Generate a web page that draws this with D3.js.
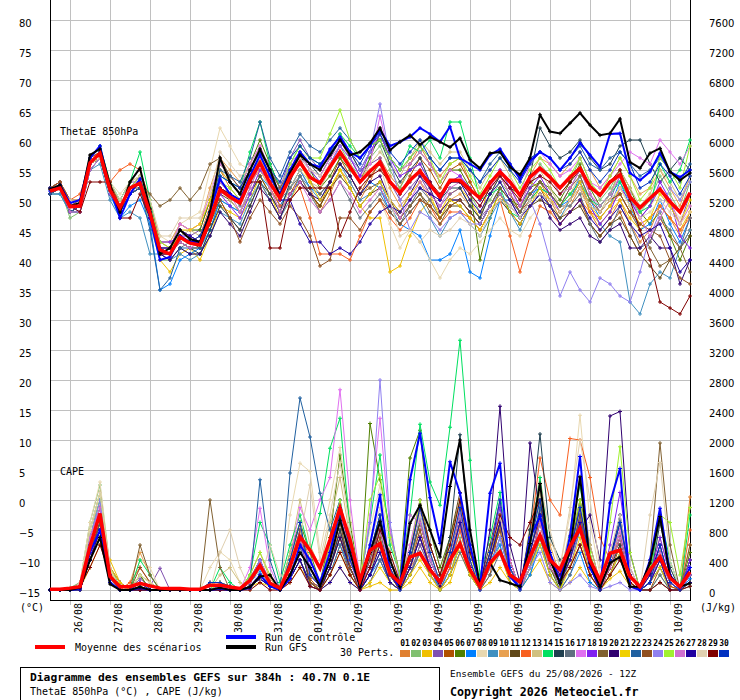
<!DOCTYPE html>
<html>
<head>
<meta charset="utf-8">
<script src="https://cdn.jsdelivr.net/npm/d3@7"></script>
<style>
  body { margin: 0; background: #fff; }
  svg text { font-family: "DejaVu Sans Mono", monospace; fill: #000; }
</style>
</head>
<body>
<svg id="chart" width="740" height="700"></svg>
<script>
// forecast steps (hours from 25/08 12Z), one every 6h
var hours = d3.range(0, 385, 6);
var dayLabels = ['26/08', '27/08', '28/08', '29/08', '30/08', '31/08', '01/09', '02/09',
    '03/09', '04/09', '05/09', '06/09', '07/09', '08/09', '09/09', '10/09'];
var dayHours = d3.range(12, 384, 24);
var thetaTicks = d3.range(-15, 81, 5);
var capeTicks = d3.range(0, 7601, 400);
var pertNames = d3.range(1, 31).map(function (n) { return (n < 10 ? '0' : '') + n; });
var pertColors = ['#e08030', '#80c070', '#f0c000', '#8050b0', '#b05000', '#508000', '#0080ff', '#e8d8b0',
    '#4090c0', '#e8a050', '#604818', '#f86020', '#d0c080', '#00e060', '#204050', '#607080', '#e070f0',
    '#8020f0', '#806030', '#300070', '#f0d000', '#2060a0', '#905020', '#9080f0', '#a0f030', '#d070d0',
    '#2000a0', '#e0d0b0', '#800000', '#0030c0'];

// ThetaE 850hPa (°C)
var thetaMean = [51.5, 52, 48.9, 49, 56.2, 57.8, 51.7, 48.7, 52, 52.8, 47.8, 41.7, 41, 43.8, 42.8, 42.5, 46.7,
    51.7, 50.5, 49.5, 53.3, 56.2, 52.8, 50.3, 53.8, 56.3, 53.8, 52.8, 55.5, 58, 55.5, 53, 54.8, 56.3, 53, 51.2,
    53.3, 54.8, 52.5, 50.5, 53.3, 53.3, 51.7, 50.3, 52.8, 54.7, 53, 50.8, 53.8, 55.3, 53.8, 52, 53.8, 55.3, 52.2,
    50.8, 53, 54.2, 50.5, 48.7, 50.3, 51.8, 49.7, 48, 51.2];
var thetaControl = [51.5, 52.5, 49.5, 50, 57, 59, 52, 47, 51, 53.5, 47, 40, 40.5, 44, 43, 43, 48, 53.5, 51, 50,
    54, 57.5, 54, 51, 55, 58, 56, 55.5, 58.5, 60.5, 58, 57, 59, 61.7, 59, 59.7, 60.5, 62, 61, 59.7, 62.2, 57, 56,
    55, 57.5, 58.5, 56, 53.5, 56.5, 58, 57, 55, 57, 59.5, 57.5, 55.5, 61, 61.1, 54.5, 53.3, 54.7, 57.8, 54.7,
    53.8, 55];
var thetaGfs = [51.8, 52.5, 49, 49.5, 57.5, 58.5, 52.5, 48, 53, 55.3, 48.5, 41, 42, 45, 43.5, 43, 48, 57, 53, 51,
    55, 58.5, 55, 50.5, 54.5, 57.5, 56, 55, 57.5, 60, 57.5, 58, 59.5, 62, 58.3, 59.7, 60.8, 59.2, 60.5, 59.7,
    58.8, 60.3, 56.7, 55.3, 57.8, 58, 55.5, 54.2, 57, 64.2, 61.4, 61.1, 62.8, 64.5, 62.5, 60.8, 61.1, 63.5, 56.3,
    55.3, 57.8, 58.6, 54.7, 53.3, 54.5];
var thetaPerts = [
    [52,53,50,50,57,59,53,49,52,54,48,42,42, 44,43,44,49,55,52,50,54,57,53,49,52,55, 52,48,51,55,53,50,53,57,54,52,56,59,56, 54,56,57,53,50,53,55,52,49,51,53,50,47, 49,52,48,45,47,50,46,43,45,49,47,44,48],
    [51,52,47,48,55,57,51,48,51,52,46,40,40, 42,41,41,45,50,49,48,52,56,54,51,55,58, 55,53,56,59,56,54,57,59,55,52,55,56,53, 50,53,54,51,48,50,53,51,48,52,56,54,51, 53,57,53,50,52,55,51,48,50,54,51,48,53],
    [51,51,48,49,56,57,51,48,51,52,47,40,38, 41,42,40,44,49,48,47,50,54,51,47,50,53, 51,49,52,55,52,49,47,47,38,39,44,48,50, 48,51,52,50,47,53,54,52,51,53,52,50,49, 51,53,48,46,48,50,47,45,47,49,47,45,48],
    [52,52,49,48,56,58,52,50,53,53,49,42,42, 45,44,45,50,55,53,51,55,58,56,52,57,60, 57,55,58,61,58,55,56,57,53,50,52,54,51, 49,51,52,49,47,49,52,50,47,50,53,51,49, 52,55,51,48,50,54,50,47,49,52,49,46,51],
    [52,53,49,49,56,57,52,48,51,52,47,41,41, 43,42,42,46,50,47,45,49,53,50,47,51,54, 51,49,53,57,54,51,54,56,53,51,54,57,55, 52,55,56,53,50,52,54,51,48,50,52,49,46, 48,50,46,44,46,48,44,41,43,47,44,42,45],
    [51,52,48,49,56,58,52,49,52,53,48,42,42, 46,45,45,50,56,54,52,56,60,56,52,55,58, 55,52,54,57,55,53,57,61,57,55,56,58,56, 53,55,55,52,40,47,52,50,49,52,53,52,50, 53,56,52,49,51,55,52,48,46,48,44,40,44],
    [51,51,48,48,55,57,51,47,49,50,46,35,36, 40,41,42,45,50,49,48,51,54,52,49,52,55, 52,51,53,56,54,51,53,52,48,46,45,44,40, 40,41,45,38,37,44,50,50,48,51,52,51,49, 50,54,50,47,49,53,49,45,46,50,46,43,47],
    [52,52,49,50,56,57,53,51,53,54,50,44,43, 46,47,48,55,62,59,56,55,57,55,53,55,58, 57,56,57,59,57,54,52,50,46,42,45,43,40, 37,40,42,41,43,45,47,45,44,47,49,48,47, 49,51,49,48,50,52,50,48,49,51,49,47,49],
    [51,51,48,48,55,56,50,47,48,47,41,41,40, 41,40,41,44,48,47,46,50,53,50,47,50,54, 52,50,53,56,53,50,51,53,49,46,48,50,47, 44,47,48,46,44,47,50,48,45,49,51,49,47, 50,53,49,46,44,43,33,31,36,38,37,42,45],
    [52,53,50,50,57,58,52,50,53,54,49,43,43, 46,45,46,52,57,55,53,56,59,55,52,55,58, 56,55,58,60,57,54,55,56,52,49,51,53,50, 48,50,51,49,47,51,54,52,50,54,57,56,54, 56,58,55,52,54,57,54,51,52,55,52,49,54],
    [51,52,48,49,56,57,52,49,52,52,47,42,41, 44,43,42,46,51,50,48,51,54,51,48,51,53, 51,49,52,54,52,49,51,52,49,47,49,51,49, 47,49,49,47,45,48,50,48,46,49,50,49,47, 48,49,46,44,46,47,44,41,39,37,40,42,44],
    [52,53,50,51,56,57,53,55,56,55,50,43,42, 45,44,43,48,52,51,50,53,55,52,49,50,52, 47,41,41,41,40,44,48,50,47,45,47,50,49, 46,48,48,47,45,48,50,44,38,44,49,48,46, 48,50,48,47,49,51,48,46,47,49,47,45,47],
    [52,52,49,49,56,57,52,49,52,53,48,43,43, 44,45,44,48,52,50,48,51,55,52,48,52,55, 53,52,55,58,56,53,56,58,56,54,57,60,58, 56,58,58,55,52,55,57,54,51,53,55,52,49, 51,54,50,48,51,55,52,49,51,55,53,50,54],
    [52,52,49,49,57,59,53,50,53,58,50,42,41, 44,43,43,48,54,53,52,58,63,56,52,56,59, 57,56,58,61,59,57,59,60,57,55,59,58,60, 57,63,63,57,50,51,52,48,47,50,52,51,49, 51,53,50,49,51,53,50,48,49,56,53,55,60],
    [51,52,48,49,56,57,51,48,51,52,47,41,41, 43,42,41,45,49,47,45,49,53,51,48,53,57, 56,54,57,60,58,55,58,60,56,53,55,57,53, 50,52,52,49,47,51,54,52,51,54,62,59,57, 58,60,57,55,56,59,60,60,56,53,55,57,55],
    [51,52,48,48,55,57,51,48,51,52,47,41,40, 42,43,43,47,53,51,49,53,57,54,50,52,54, 51,48,50,53,50,47,49,51,48,46,49,52,50, 47,50,50,48,46,49,52,50,48,51,53,51,49, 49,51,46,43,45,49,46,42,43,47,45,42,47],
    [52,53,49,49,56,58,52,49,52,53,48,42,42, 46,45,46,51,56,54,52,56,59,55,52,56,58, 55,54,57,59,57,54,56,64,57,55,56,58,56, 53,55,54,51,49,52,55,53,51,56,58,56,54, 55,57,53,52,54,56,58,57,56,60,58,56,59],
    [52,52,49,49,56,58,52,49,52,54,49,43,43, 44,44,43,47,51,49,47,51,55,53,50,54,57, 55,53,56,59,57,54,58,61,57,54,55,56,53, 50,53,54,52,50,53,55,52,49,52,54,51,48, 50,53,49,46,48,52,50,47,49,53,50,44,42],
    [52,53,50,50,56,57,52,49,52,53,51,49,50, 52,50,52,56,57,54,52,55,58,55,52,55,57, 53,51,53,56,54,51,52,53,50,47,49,51,48, 46,49,50,48,46,49,52,50,48,51,53,51,49, 52,54,50,48,50,51,48,45,42,39,40,42,38],
    [51,52,48,49,56,57,51,48,51,52,47,41,40, 42,41,41,44,48,46,44,48,52,50,47,51,53, 51,50,53,56,54,51,53,54,50,48,51,54,52, 48,50,50,48,46,49,51,48,46,49,51,47,45, 46,47,44,43,45,46,42,42,44,42,42,36,40],
    [52,52,49,49,56,57,52,49,52,53,48,42,41, 45,45,46,50,55,53,51,55,58,54,51,54,56, 53,50,52,55,52,49,51,53,50,48,51,53,51, 47,50,49,47,45,48,51,48,46,49,52,50,48, 50,53,49,47,49,52,49,46,47,51,49,46,50],
    [51,52,48,49,56,58,52,48,51,52,45,35,37, 42,42,42,48,55,54,53,57,63,57,54,58,61, 59,58,60,62,60,57,59,60,57,55,57,59,57, 55,57,57,55,53,56,58,56,54,57,58,57,55, 57,59,56,55,57,58,56,54,55,57,55,53,56],
    [52,53,49,50,57,58,53,49,52,53,48,42,42, 45,44,43,47,50,47,43,47,50,48,46,49,47, 44,39,40,47,47,45,48,50,48,46,48,50,49, 47,49,50,48,46,49,51,49,47,50,51,50,48, 50,52,49,48,50,51,48,46,45,44,40,37,36],
    [52,52,49,48,56,58,51,48,52,53,48,42,42, 45,44,43,47,52,51,50,53,56,53,50,54,56, 54,53,56,59,57,55,58,66,57,50,45,48,47, 45,47,48,46,46,49,51,49,47,50,46,40,34, 38,35,33,37,36,34,33,38,44,48,52,50,53],
    [52,52,49,49,56,58,52,49,52,54,49,43,42, 44,43,43,47,53,52,50,54,57,54,51,56,59, 57,57,61,65,60,57,59,60,57,55,57,59,57, 53,56,57,54,51,54,57,55,52,55,57,55,52, 54,57,53,51,54,57,54,50,52,57,55,52,59],
    [52,52,48,48,55,57,52,49,52,53,47,41,41, 43,42,43,48,53,51,48,52,56,52,48,51,53, 50,48,50,53,51,48,50,52,49,47,50,53,51, 49,52,53,51,49,52,54,51,49,53,55,54,51, 52,55,51,49,51,54,51,47,44,47,50,46,49],
    [52,52,49,49,56,58,52,49,52,53,48,42,42, 45,44,43,47,52,51,50,53,56,53,50,50,46, 43,43,41,42,41,43,46,48,49,48,50,52,51, 50,53,53,50,48,51,53,50,47,49,51,49,46, 48,50,47,45,47,49,46,44,45,46,42,38,40],
    [52,52,50,50,56,57,53,50,53,54,50,44,44, 47,47,47,51,58,56,54,55,57,54,51,54,57, 55,54,56,58,56,53,55,56,50,44,45,43,45, 44,45,47,46,44,48,50,49,47,50,51,50,48, 50,52,49,48,50,52,49,47,48,50,48,46,48],
    [52,52,49,48,53,53,53,47,47,51,47,41,41, 44,43,43,47,52,51,50,53,53,42,42,50,52, 52,52,52,44,48,52,54,55,53,51,53,55,53, 51,53,53,51,49,52,54,52,50,53,54,53,51, 53,55,52,51,53,55,50,45,40,33,32,31,34],
    [52,52,49,49,56,58,52,48,51,53,48,42,41, 44,43,44,48,54,53,52,55,58,55,53,57,59, 57,56,58,60,58,56,59,61,58,56,58,60,57, 55,57,57,55,53,55,57,55,53,56,58,57,55, 56,58,55,53,55,58,56,52,53,56,54,51,54]
];

// CAPE (J/kg)
var capeMean = [10, 10, 25, 45, 580, 1020, 180, 45, 45, 90, 55, 25, 20, 20, 10, 10, 65, 65, 40, 20, 130, 330,
    90, 25, 310, 710, 530, 290, 670, 1090, 670, 130, 530, 620, 220, 90, 440, 490, 270, 110, 400, 620, 270, 45,
    360, 510, 200, 110, 440, 730, 400, 270, 580, 820, 400, 130, 490, 530, 180, 45, 270, 440, 160, 45, 240];
var capeControl = [0, 0, 0, 20, 500, 800, 100, 0, 0, 30, 0, 0, 0, 0, 0, 0, 0, 20, 0, 0, 30, 200, 50, 0, 150, 600,
    400, 100, 500, 1100, 600, 50, 600, 1270, 220, 30, 1470, 2090, 1230, 620, 1710, 1290, 600, 50, 1290, 1690,
    180, 30, 700, 980, 500, 100, 720, 1780, 300, 40, 1160, 1620, 45, 0, 400, 1090, 200, 30, 300];
var capeGfs = [0, 0, 0, 30, 400, 700, 80, 0, 0, 40, 0, 0, 0, 0, 0, 0, 0, 30, 0, 0, 40, 180, 200, 0, 200, 500,
    300, 50, 400, 930, 500, 40, 500, 910, 400, 45, 890, 1130, 800, 440, 1380, 2000, 800, 65, 360, 130, 90, 45,
    620, 1420, 400, 90, 530, 1510, 360, 45, 360, 440, 45, 45, 360, 980, 180, 45, 90];
var capePerts = [
    [0,0,0,50,700,1200,200,0,0,100,0,0,0, 0,0,0,50,80,40,0,100,300,100,0,300,800, 400,100,600,1000,500,50,300,600,100,0,300,500,200, 50,400,900,300,0,400,800,200,0,300,700,300,100, 300,600,200,0,300,600,100,0,100,300,50,0,1240],
    [0,0,30,100,900,1400,300,50,0,200,0,0,0, 0,0,0,0,50,0,0,150,400,100,0,200,600, 100,50,400,900,300,0,200,700,200,0,200,600,300, 0,200,700,200,0,300,600,100,0,200,700,200,0, 400,1000,300,0,200,500,50,0,0,200,0,0,100],
    [0,0,0,20,300,600,400,100,0,50,0,0,0, 0,0,0,0,0,0,0,50,150,50,0,150,400, 50,0,100,300,100,0,50,100,0,0,100,300,100, 0,100,500,200,0,100,300,100,0,200,400,100,0, 100,300,100,0,150,250,50,0,0,100,0,0,50],
    [0,0,0,0,600,1000,200,0,0,150,50,290,0, 0,0,0,50,80,40,0,100,300,100,0,300,700, 100,50,300,800,200,0,100,400,100,0,200,600,300, 0,300,800,300,0,300,700,200,0,400,900,300,50, 300,800,200,0,300,700,100,0,100,400,0,0,200],
    [0,0,0,0,400,900,150,0,0,0,0,0,0, 0,0,0,100,100,50,0,50,200,50,0,400,900, 150,0,300,700,200,0,200,500,100,0,200,500,200, 0,200,600,200,0,200,900,400,0,300,1000,300,100, 500,900,300,0,200,600,100,0,0,300,50,0,300],
    [0,0,0,50,600,1100,200,0,0,200,0,0,0, 0,0,0,0,0,0,0,100,300,100,0,500,900, 500,100,700,1800,900,100,2220,1470,800,200,1760,2130,800, 300,700,1200,400,0,500,900,200,0,700,1000,300,0, 500,1100,400,0,400,800,100,0,100,500,100,0,500],
    [0,0,0,0,500,900,100,0,0,0,0,0,0, 0,0,0,0,50,0,0,100,250,50,0,300,600, 100,0,200,600,300,0,200,400,100,0,300,700,300, 0,300,900,300,0,400,600,100,0,200,600,200,0, 200,500,100,0,300,800,200,0,100,300,0,0,150],
    [0,0,0,100,900,1440,300,0,0,400,300,0,0, 0,0,0,300,510,400,100,0,300,200,0,1000,1690, 1580,500,1200,1900,1000,200,800,1400,500,100,600,1200,500, 100,600,1200,400,0,500,1100,300,0,900,1500,700,300, 1000,2330,900,200,500,1000,200,0,300,900,300,0,400],
    [0,0,0,50,600,1000,150,0,0,0,0,0,0, 0,0,0,0,0,0,0,50,150,50,0,150,400, 100,0,300,800,400,0,200,500,100,0,200,500,200, 0,200,600,200,0,300,700,200,0,300,900,400,100, 400,800,300,0,200,500,100,0,0,100,0,0,50],
    [0,0,0,50,800,1300,250,0,100,500,200,0,0, 0,0,0,0,100,50,0,200,500,150,0,400,800, 200,100,500,1100,400,50,300,700,200,0,400,800,300, 50,400,1000,400,0,400,900,300,0,500,1100,600,200, 600,1200,500,0,300,800,200,0,100,400,100,0,600],
    [0,0,0,100,500,900,300,100,0,0,0,0,0, 0,0,0,0,50,0,0,150,400,100,0,200,600, 100,0,300,700,300,0,300,900,400,100,500,1200,600, 200,700,1300,500,100,600,1200,400,0,800,1400,500,100, 500,1200,600,100,300,700,200,0,100,500,100,0,400],
    [0,0,0,0,700,1100,200,0,100,300,100,0,0, 0,0,0,50,80,40,0,100,300,100,0,300,700, 200,50,400,800,300,0,300,600,200,0,300,700,300, 50,300,800,300,0,400,900,300,0,700,1760,1200,1000, 2020,2000,1500,700,400,900,200,0,200,500,100,0,800],
    [0,0,0,50,800,1200,200,0,0,200,100,0,0, 0,0,0,0,200,300,100,0,200,100,0,500,1200, 600,300,900,1500,700,100,500,1000,300,0,400,900,400, 100,500,1000,400,0,500,1000,300,0,600,1300,500,200, 800,1500,600,100,400,900,300,0,300,700,200,0,300],
    [0,0,0,50,700,1200,200,0,0,400,200,0,0, 0,0,0,0,300,100,0,200,900,600,100,600,1000, 500,1020,1890,2290,800,100,900,1800,600,200,1000,2210,1440, 1130,2170,3330,1730,200,700,1300,300,0,600,1500,500,100, 700,1400,500,0,400,1000,200,0,200,1000,400,0,1000],
    [0,0,0,0,500,900,100,0,0,50,0,0,0, 0,0,0,0,0,0,0,100,300,100,0,200,600, 100,0,300,800,300,0,300,800,200,0,400,900,400, 100,700,2070,600,0,500,1000,300,0,800,2080,700,400, 500,900,400,0,300,600,100,0,100,900,300,0,400],
    [0,0,0,0,400,800,100,0,0,0,0,0,0, 0,0,0,0,0,0,0,50,150,50,0,150,400, 50,0,200,600,200,0,100,400,100,0,200,500,200, 0,200,500,200,0,200,500,100,0,300,700,200,0, 200,600,200,0,200,400,50,0,0,200,0,0,100],
    [0,0,0,50,800,1300,300,100,0,100,0,0,0, 0,0,0,0,0,0,0,300,1090,300,0,400,1100, 800,1200,1500,2670,1200,100,1000,2290,800,100,600,1200,500, 100,600,1200,400,0,500,1200,400,0,500,1000,400,100, 400,900,300,0,400,800,200,0,200,600,100,0,300],
    [0,0,0,50,700,1100,200,0,0,100,0,0,0, 0,0,0,0,50,50,0,100,400,100,0,300,800, 300,100,600,1200,500,0,400,900,300,0,500,1000,400, 100,500,1100,400,0,500,1100,300,0,700,1200,500,200, 500,1100,400,0,600,1300,300,0,200,700,200,0,400],
    [0,0,0,100,600,1000,300,100,0,600,200,0,0, 0,0,0,1200,300,0,0,100,300,100,0,300,800, 200,100,500,1000,400,50,400,900,300,0,400,900,400, 100,500,1000,400,0,400,900,300,0,500,1000,400,100, 400,900,300,0,300,700,200,0,400,1960,600,0,600],
    [0,0,0,0,400,800,100,0,0,0,0,0,0, 0,0,0,0,0,0,0,50,150,50,0,150,400, 100,0,300,700,300,0,200,600,200,0,300,700,300, 50,400,900,300,0,800,2450,600,100,1960,1000,400,200, 500,800,1000,400,2320,2380,500,0,200,600,100,0,200],
    [0,0,0,0,500,700,300,100,0,0,0,0,0, 0,0,0,0,0,0,0,50,100,50,0,100,300, 100,0,200,500,200,0,100,300,100,0,200,400,200, 0,200,600,200,0,300,500,100,0,300,600,200,0, 300,700,200,0,200,500,100,0,100,300,0,0,100],
    [0,0,0,0,500,900,100,0,0,0,0,0,0, 0,0,0,0,0,0,0,100,1470,400,0,1560,2560, 2040,1290,800,1200,500,100,500,1000,300,0,400,1000,400, 100,500,1000,300,0,400,900,300,0,500,1100,400,100, 400,1000,300,0,400,900,200,0,100,500,100,0,200],
    [0,0,0,50,500,900,200,0,0,300,100,0,0, 0,0,0,50,80,40,0,100,300,100,0,300,700, 100,0,400,900,300,0,300,700,200,0,300,800,300, 100,400,900,300,0,400,800,200,0,400,900,300,100, 400,1000,400,0,300,700,200,0,100,400,100,0,300],
    [0,0,0,50,700,1200,200,0,0,100,0,0,0, 0,0,0,0,50,0,0,150,400,100,0,200,600, 200,50,500,1000,400,100,900,2800,900,100,500,1000,400, 100,400,900,300,0,300,700,200,0,300,500,100,0, 100,200,50,0,50,100,0,0,100,400,100,0,300],
    [0,0,0,50,800,1300,300,0,0,200,100,0,0, 0,0,0,0,100,50,0,200,500,200,0,400,900, 200,100,600,1200,500,50,1200,1530,700,200,500,1200,500, 100,600,1200,500,0,500,1000,300,0,600,1200,500,100, 600,1200,500,0,900,1910,500,0,300,1000,900,200,1100],
    [0,0,0,50,700,1100,200,0,0,100,0,0,0, 0,0,0,50,80,40,0,100,300,100,0,300,700, 200,50,500,1100,400,0,300,800,300,0,1000,900,400, 100,500,1000,400,0,500,1000,300,0,400,900,300,100, 400,900,300,0,300,700,200,0,100,500,100,0,200],
    [0,0,0,0,400,800,100,0,0,0,0,0,0, 0,0,0,0,0,0,0,50,150,50,0,150,400, 50,0,100,300,100,0,200,500,100,0,300,700,300, 100,400,900,300,0,400,900,300,0,500,1000,400,100, 400,900,300,0,400,1000,200,0,100,400,0,0,100],
    [0,0,0,100,800,1300,300,0,0,200,100,0,0, 0,0,0,0,500,800,300,0,100,600,200,100,700, 1400,400,1000,1700,800,100,600,1100,400,0,500,1000,500, 100,500,1100,400,0,500,1000,300,0,700,1400,800,300, 1100,2000,1200,300,500,1000,300,0,1000,1700,400,0,300],
    [0,0,0,50,300,600,200,0,0,0,0,0,0, 0,0,0,0,0,0,0,0,100,0,0,100,300, 50,0,200,500,200,0,300,800,500,100,500,1100,600, 200,600,1200,500,100,500,1000,700,600,900,1200,400,100, 300,600,200,0,200,400,100,0,0,100,0,0,50],
    [0,0,0,50,600,1000,200,0,0,100,0,0,0, 0,0,0,100,100,50,0,50,200,50,0,400,900, 200,50,500,1000,400,50,500,1000,300,0,500,1100,500, 100,500,1100,400,0,500,1200,300,0,600,1200,500,100, 500,1100,400,0,400,900,200,0,100,600,100,0,300]
];

var svg = d3.select('#chart');

var x = d3.scaleLinear().domain([0, 384]).range([50, 690]),
    yT = d3.scaleLinear().domain([-15, 80]).range([590, 20]),
    yC = d3.scaleLinear().domain([0, 7600]).range([590, 20]);

// grid
var hGrid = svg.append('g').attr('transform', 'translate(50,0)')
    .call(d3.axisLeft(yT).tickValues(thetaTicks).tickSize(-640).tickFormat(''));
var vGrid = svg.append('g').attr('transform', 'translate(0,600)')
    .call(d3.axisBottom(x).tickValues(dayHours).tickSize(-600).tickFormat(''));
[hGrid, vGrid].forEach(function (g) {
    g.select('.domain').remove();
    g.selectAll('line').attr('stroke', '#c0c0c0').attr('shape-rendering', 'crispEdges');
});

// left axis labels (ThetaE)
var leftAxis = svg.append('g').attr('transform', 'translate(50,0)')
    .call(d3.axisLeft(yT).tickValues(thetaTicks).tickSize(0));
leftAxis.select('.domain').remove();
leftAxis.selectAll('text').attr('x', -31).attr('dy', '0.6em')
    .attr('text-anchor', 'start').style('font-family', '"DejaVu Sans", sans-serif').style('font-size', '10px');

// right axis labels (CAPE)
var rightAxis = svg.append('g').attr('transform', 'translate(690,0)')
    .call(d3.axisRight(yC).tickValues(capeTicks).tickSize(0).tickFormat(d3.format('d')));
rightAxis.select('.domain').remove();
rightAxis.selectAll('text').attr('x', 19).attr('dy', '0.6em')
    .style('font-family', '"DejaVu Sans", sans-serif').style('font-size', '10px');

// day ticks and rotated labels
var dayAxis = svg.append('g').attr('transform', 'translate(0,600)')
    .call(d3.axisBottom(x).tickValues(dayHours).tickSize(5)
        .tickFormat(function (d, i) { return dayLabels[i]; }));
dayAxis.select('.domain').remove();
dayAxis.selectAll('line').attr('stroke', '#c0c0c0');
dayAxis.selectAll('text')
    .attr('transform', 'translate(11,3) rotate(-90)')
    .attr('x', 0).attr('y', 0).attr('dy', 0)
    .attr('text-anchor', 'end')
    .style('font-size', '10px');

// frame
svg.append('path')
    .attr('d', 'M50,0V600H690V0')
    .attr('fill', 'none').attr('stroke', '#000').attr('stroke-width', 1)
    .attr('shape-rendering', 'crispEdges');

// series drawing
function crosses(vals, y) {
    return vals.map(function (v, i) {
        return 'M' + (x(hours[i]) - 2) + ',' + y(v) + 'h4m-2,-2v4';
    }).join('');
}

function drawSeries(vals, y, color, width, mark) {
    var line = d3.line()
        .x(function (d, i) { return x(hours[i]); })
        .y(function (d) { return y(d); });
    var g = svg.append('g');
    g.append('path').attr('d', line(vals))
        .attr('fill', 'none').attr('stroke', color).attr('stroke-width', width);
    if (mark) {
        g.append('path').attr('d', crosses(vals, y))
            .attr('fill', 'none').attr('stroke', color).attr('stroke-width', 1);
    }
}

pertColors.forEach(function (c, k) {
    drawSeries(capePerts[k], yC, c, 1, true);
    drawSeries(thetaPerts[k], yT, c, 1, true);
});
drawSeries(capeControl, yC, '#0000ff', 2, true);
drawSeries(thetaControl, yT, '#0000ff', 2, true);
drawSeries(capeGfs, yC, '#000000', 2, true);
drawSeries(thetaGfs, yT, '#000000', 2, true);
drawSeries(capeMean, yC, '#ff0000', 3.5, false);
drawSeries(thetaMean, yT, '#ff0000', 3.5, false);

// in-plot titles
svg.append('text').attr('x', 60).attr('y', 135).style('font-size', '10px').text('ThetaE 850hPa');
svg.append('text').attr('x', 60).attr('y', 475).style('font-size', '10px').text('CAPE');

// units
svg.append('text').attr('x', 20).attr('y', 611).style('font-size', '10px').text('(°C)');
svg.append('text').attr('x', 700).attr('y', 611).style('font-size', '10px').text('(J/kg)');

// legend
var legend = [
    {x1: 35, x2: 65, y: 647, tx: 75, color: '#ff0000', label: 'Moyenne des scénarios'},
    {x1: 226, x2: 256, y: 637, tx: 265, color: '#0000ff', label: 'Run de contrôle'},
    {x1: 226, x2: 256, y: 647, tx: 265, color: '#000000', label: 'Run GFS'}
];
legend.forEach(function (l) {
    svg.append('line').attr('x1', l.x1).attr('x2', l.x2).attr('y1', l.y).attr('y2', l.y)
        .attr('stroke', l.color).attr('stroke-width', 4);
    svg.append('text').attr('x', l.tx).attr('y', l.y + 3.5).style('font-size', '10px').text(l.label);
});
svg.append('text').attr('x', 340).attr('y', 656).style('font-size', '10px').text('30 Perts.');

var sw = svg.append('g').selectAll('g').data(pertColors).enter().append('g')
    .attr('transform', function (d, i) { return 'translate(' + (400 + i * 11) + ',0)'; });
sw.append('rect').attr('x', 0).attr('y', 650).attr('width', 10).attr('height', 7)
    .attr('fill', function (d) { return d; });
sw.append('text').attr('x', 5).attr('y', 646).attr('text-anchor', 'middle')
    .style('font-size', '8px').style('font-weight', 'bold')
    .text(function (d, i) { return pertNames[i]; });

// caption box
svg.append('rect').attr('x', 20.5).attr('y', 667.5).attr('width', 419).attr('height', 40)
    .attr('fill', 'none').attr('stroke', '#000');
svg.append('text').attr('x', 30).attr('y', 681).style('font-size', '11.3px').style('font-weight', 'bold')
    .text('Diagramme des ensembles GEFS sur 384h : 40.7N 0.1E');
svg.append('text').attr('x', 30).attr('y', 695).style('font-size', '10px')
    .text('ThetaE 850hPa (°C) , CAPE (J/kg)');
svg.append('text').attr('x', 450).attr('y', 677).style('font-size', '9.4px')
    .text('Ensemble GEFS du 25/08/2026 - 12Z');
svg.append('text').attr('x', 450).attr('y', 696).style('font-size', '11.6px').style('font-weight', 'bold')
    .text('Copyright 2026 Meteociel.fr');
</script>
</body>
</html>
